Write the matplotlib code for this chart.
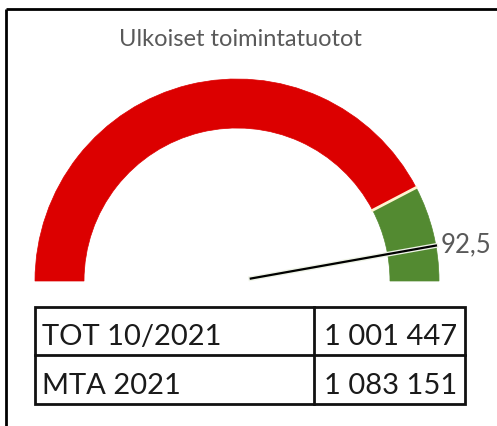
import matplotlib
matplotlib.use('Agg')
import matplotlib.pyplot as plt
from matplotlib.patches import Wedge, Rectangle
import matplotlib.patheffects as pe
import numpy as np

# ---- data ----
title = "Ulkoiset toimintatuotot"
band_edges = [0, 83, 98]          # gauge scale: red band, green band
band_colors = ['#DC0000', '#538A31']
value = 92.5
value_label = "92,5"
row_labels = ["TOT 10/2021", "MTA 2021"]
row_values = ["1 001 447", "1 083 151"]

W, H = 497, 426
fig = plt.figure(figsize=(W / 100, H / 100), dpi=100)
ax = fig.add_axes([0, 0, 1, 1])
ax.set_xlim(0, W)
ax.set_ylim(H, 0)
ax.axis('off')

FONT = 'Lato'

# frame (left and top)
ax.plot([6, 6], [9, H], color='black', lw=2, solid_capstyle='butt')
ax.plot([6, W], [9, 9], color='black', lw=2, solid_capstyle='butt')

# title
ax.text(240, 39, title, ha='center', va='center', fontsize=17,
        color='#595959', family=FONT)

# gauge
cx, cy, R, width = 237, 281, 202, 49
vmin, vmax = band_edges[0], band_edges[-1]

def ang(v):
    return 180 + 180 * (v - vmin) / (vmax - vmin)

for i, c in enumerate(band_colors):
    ax.add_patch(Wedge((cx, cy), R, ang(band_edges[i]), ang(band_edges[i + 1]),
                       width=width, facecolor=c, edgecolor=c, lw=0.5))
# separators between bands
for e in band_edges[1:-1]:
    t = np.deg2rad(ang(e))
    ax.plot([cx + (R - width) * np.cos(t), cx + R * np.cos(t)],
            [cy + (R - width) * np.sin(t), cy + R * np.sin(t)],
            color='#FFF3D0', lw=2)

th = np.deg2rad(ang(value))
r0 = 14
ax.plot([cx + r0 * np.cos(th), cx + R * np.cos(th)],
        [cy + r0 * np.sin(th), cy + R * np.sin(th)], color='black', lw=1.6,
        path_effects=[pe.Stroke(linewidth=3.5, foreground='#EEF3E6'), pe.Normal()])
ax.text(cx + R * np.cos(th) + 5, cy + R * np.sin(th) - 1, value_label,
        ha='left', va='center', fontsize=18.5, color='#595959', family=FONT)

# table
tx0, tx1, ty0, ty1, tmid_x = 35, 465, 307, 404, 314
tmid_y = 355
ax.add_patch(Rectangle((tx0, ty0), tx1 - tx0, ty1 - ty0, fill=False,
                       edgecolor='#111111', lw=2))
ax.plot([tx0, tx1], [tmid_y, tmid_y], color='#111111', lw=2)
ax.plot([tmid_x, tmid_x], [ty0, ty1], color='#111111', lw=2)
baselines = [345, 394]
for lab, val, yb in zip(row_labels, row_values, baselines):
    ax.text(42, yb, lab, ha='left', va='baseline', fontsize=21,
            color='#1A1A1A', family=FONT)
    ax.text(457, yb, val, ha='right', va='baseline', fontsize=21,
            color='#1A1A1A', family=FONT)

fig.savefig('out.png', dpi=100)
